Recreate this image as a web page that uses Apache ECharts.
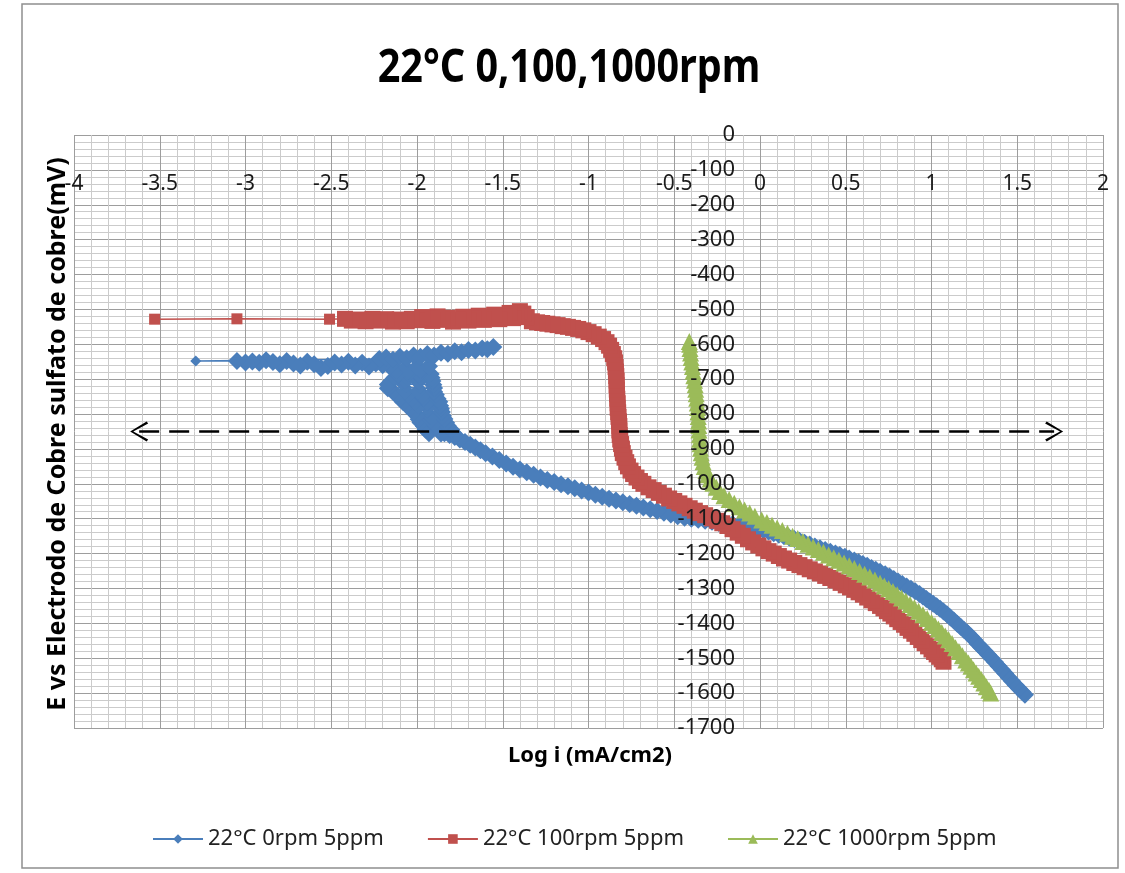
<!DOCTYPE html>
<html>
<head>
<meta charset="utf-8">
<script src="https://cdn.jsdelivr.net/npm/echarts@6/dist/echarts.min.js"></script>
<style>
  html, body { margin: 0; padding: 0; background: #fff; }
  #chart { width: 1125px; height: 873px; }
</style>
</head>
<body>
<div id="chart"></div>
<script>
// Polarization curves: E (mV vs Cu/CuSO4) against log i (mA/cm2)
const chartTitle = '22°C 0,100,1000rpm';
const xAxisName = 'Log i (mA/cm2)';
const yAxisName = 'E vs Electrodo de Cobre sulfato de cobre(mV)';
const seriesNames = ['22°C 0rpm 5ppm', '22°C 100rpm 5ppm', '22°C 1000rpm 5ppm'];

// axis ranges and steps
const logIRange = [-4, 2];
const logIStep = 0.5;
const eRange = [-1700, 0];
const eStep = 100;

// 0 rpm: [log i, E]
const rpm0 = [
  [1.545,-1605],[1.53,-1597],[1.51,-1587],[1.49,-1577],[1.47,-1566],[1.45,-1555],[1.43,-1544],[1.41,-1533],
  [1.39,-1522],[1.37,-1511],[1.35,-1500],[1.33,-1490],[1.31,-1479],[1.29,-1469],[1.27,-1459],[1.25,-1448],
  [1.23,-1438],[1.21,-1428],[1.19,-1419],[1.17,-1410],[1.15,-1401],[1.13,-1392],[1.11,-1383],[1.09,-1374],
  [1.07,-1366],[1.05,-1358],[1.03,-1351],[1.01,-1344],[0.99,-1337],[0.97,-1330],[0.95,-1323],[0.93,-1316],
  [0.905,-1308],[0.88,-1301],[0.855,-1294],[0.83,-1287],[0.805,-1280],[0.78,-1273],[0.755,-1266],[0.73,-1259],
  [0.70,-1252],[0.675,-1246],[0.65,-1241],[0.625,-1235],[0.60,-1230],[0.575,-1225],[0.55,-1220],[0.52,-1214],
  [0.495,-1209],[0.465,-1204],[0.44,-1200],[0.41,-1195],[0.38,-1190],[0.35,-1185],[0.32,-1180],[0.29,-1174],
  [0.26,-1169],[0.23,-1163],[0.20,-1158],[0.17,-1154],[0.14,-1150],[0.11,-1146],[0.08,-1142],[0.05,-1137],
  [0.02,-1133],[-0.01,-1129],[-0.04,-1125],[-0.08,-1121],[-0.12,-1118],[-0.16,-1116],[-0.20,-1114],[-0.24,-1112],
  [-0.28,-1109],[-0.32,-1106],[-0.36,-1103],[-0.40,-1100],[-0.44,-1097],[-0.48,-1093],[-0.52,-1088],[-0.56,-1083],
  [-0.60,-1078],[-0.64,-1073],[-0.68,-1068],[-0.72,-1063],[-0.76,-1058],[-0.80,-1053],[-0.84,-1048],[-0.88,-1043],
  [-0.92,-1037],[-0.96,-1031],[-1.00,-1025],[-1.04,-1019],[-1.08,-1013],[-1.12,-1007],[-1.16,-1001],[-1.20,-995],
  [-1.24,-989],[-1.28,-982],[-1.32,-974],[-1.36,-967],[-1.40,-959],[-1.44,-951],[-1.48,-942],[-1.52,-932],
  [-1.56,-922],[-1.60,-912],[-1.63,-904],[-1.66,-896],[-1.69,-888],[-1.72,-880],[-1.75,-873],[-1.78,-866],
  [-1.81,-860],[-1.84,-855],
  [-1.93,-855],[-1.86,-856],[-1.79,-854],
  [-1.80,-845],[-1.87,-846],[-1.95,-844],
  [-1.96,-835],[-1.89,-836],[-1.82,-834],
  [-1.83,-825],[-1.90,-826],[-1.98,-824],
  [-1.99,-815],[-1.92,-816],[-1.84,-814],
  [-1.85,-805],[-1.92,-806],[-2.00,-804],
  [-2.02,-795],[-1.94,-796],[-1.855,-794],
  [-1.86,-785],[-1.95,-786],[-2.04,-784],
  [-2.06,-775],[-1.99,-776],[-1.93,-774],[-1.865,-776],
  [-1.87,-765],[-1.94,-766],[-2.01,-764],[-2.08,-766],
  [-2.10,-755],[-2.03,-756],[-1.96,-754],[-1.88,-756],
  [-1.89,-745],[-1.97,-746],[-2.05,-744],[-2.12,-746],
  [-2.14,-735],[-2.07,-736],[-1.99,-734],[-1.90,-736],
  [-1.90,-725],[-1.98,-726],[-2.06,-724],[-2.17,-726],
  [-2.17,-715],[-2.09,-716],[-2.00,-714],[-1.905,-716],
  [-1.91,-705],[-1.99,-706],[-2.07,-704],[-2.15,-706],
  [-2.13,-695],[-2.05,-696],[-1.98,-694],[-1.915,-696],
  [-1.92,-685],[-1.99,-686],[-2.05,-684],[-2.11,-686],
  [-2.12,-675],[-2.05,-676],[-1.98,-674],
  [-1.93,-663],[-2.00,-665],[-2.08,-666],[-2.16,-664],
  [-2.20,-660],[-2.24,-655],[-2.28,-664],[-2.32,-653],[-2.36,-661],[-2.40,-650],[-2.44,-658],[-2.48,-652],
  [-2.52,-662],[-2.56,-668],[-2.60,-657],[-2.64,-650],[-2.68,-661],[-2.72,-655],[-2.76,-648],[-2.80,-657],
  [-2.84,-651],[-2.88,-646],[-2.92,-653],[-2.96,-649],[-3.00,-652],[-3.05,-648],[-3.29,-648],
  [-2.22,-642],[-2.18,-638],[-2.14,-644],[-2.10,-636],[-2.06,-640],[-2.02,-632],[-1.98,-636],[-1.94,-628],
  [-1.90,-632],[-1.86,-624],[-1.82,-627],[-1.78,-620],[-1.74,-623],[-1.70,-616],[-1.66,-618],[-1.62,-612],
  [-1.59,-614],[-1.555,-608]
];

// 100 rpm: [log i, E]
const rpm100 = [
  [1.07,-1510],[1.06,-1503],[1.045,-1496],[1.03,-1489],[1.015,-1482],[1.00,-1475],[0.98,-1466],[0.96,-1457],
  [0.94,-1448],[0.92,-1439],[0.90,-1430],[0.88,-1421],[0.86,-1413],[0.84,-1404],[0.82,-1396],[0.80,-1388],
  [0.78,-1380],[0.76,-1372],[0.74,-1365],[0.72,-1357],[0.70,-1350],[0.675,-1342],[0.65,-1334],[0.625,-1326],
  [0.60,-1318],[0.575,-1311],[0.55,-1304],[0.525,-1297],[0.50,-1291],[0.47,-1284],[0.44,-1277],[0.41,-1270],
  [0.38,-1264],[0.35,-1257],[0.32,-1251],[0.29,-1245],[0.26,-1239],[0.23,-1233],[0.20,-1227],[0.17,-1220],
  [0.14,-1214],[0.11,-1207],[0.08,-1200],[0.05,-1193],[0.02,-1185],[-0.01,-1177],[-0.04,-1168],[-0.07,-1159],
  [-0.10,-1149],[-0.13,-1140],[-0.16,-1130],[-0.19,-1121],[-0.22,-1113],[-0.25,-1106],[-0.28,-1099],[-0.32,-1090],
  [-0.35,-1084],[-0.38,-1077],[-0.41,-1070],[-0.44,-1063],[-0.47,-1056],[-0.50,-1049],[-0.53,-1042],
  [-0.56,-1034],[-0.59,-1026],[-0.62,-1018],[-0.65,-1010],[-0.68,-1000],[-0.70,-992],[-0.72,-982],[-0.74,-972],
  [-0.755,-962],[-0.77,-950],[-0.78,-938],[-0.79,-925],[-0.80,-912],[-0.805,-899],[-0.81,-886],[-0.815,-873],
  [-0.818,-860],[-0.82,-847],[-0.82,-834],[-0.822,-821],[-0.825,-808],[-0.827,-795],[-0.83,-782],[-0.83,-769],
  [-0.832,-756],[-0.834,-743],[-0.835,-730],[-0.836,-717],[-0.836,-704],[-0.838,-691],[-0.84,-678],[-0.842,-665],
  [-0.845,-652],[-0.85,-640],[-0.858,-628],[-0.868,-616],[-0.88,-604],[-0.895,-594],[-0.915,-585],[-0.94,-578],
  [-0.97,-571],[-1.00,-565],[-1.03,-560],[-1.06,-556],[-1.09,-553],[-1.12,-550],[-1.15,-548],[-1.18,-545],
  [-1.21,-543],[-1.24,-541],[-1.27,-539],[-1.30,-537],[-1.33,-534],
  [-1.36,-522],[-1.38,-512],[-1.40,-505],[-1.42,-514],[-1.44,-525],[-1.46,-510],[-1.49,-520],[-1.52,-528],
  [-1.55,-515],[-1.58,-524],[-1.61,-530],[-1.64,-518],[-1.67,-527],[-1.70,-532],[-1.73,-521],[-1.76,-529],
  [-1.79,-535],[-1.82,-524],[-1.85,-530],[-1.88,-520],[-1.91,-533],[-1.94,-526],[-1.97,-522],[-2.00,-531],
  [-2.03,-527],[-2.06,-534],[-2.10,-529],[-2.14,-535],[-2.18,-528],[-2.22,-532],[-2.26,-527],[-2.30,-534],
  [-2.34,-529],[-2.38,-532],[-2.42,-527],[-2.51,-528],[-3.05,-527],[-3.53,-528]
];

// 1000 rpm: [log i, E]
const rpm1000 = [
  [1.345,-1600],[1.335,-1592],[1.32,-1582],[1.305,-1571],[1.29,-1561],[1.275,-1552],[1.26,-1542],[1.245,-1533],
  [1.23,-1523],[1.215,-1514],[1.20,-1505],[1.18,-1493],[1.16,-1481],[1.14,-1470],[1.12,-1458],[1.10,-1447],
  [1.08,-1436],[1.06,-1426],[1.04,-1416],[1.02,-1406],[1.00,-1397],[0.975,-1386],[0.95,-1375],[0.925,-1365],
  [0.90,-1355],[0.875,-1346],[0.85,-1336],[0.825,-1327],[0.80,-1318],[0.775,-1309],[0.75,-1301],[0.725,-1293],
  [0.70,-1285],[0.67,-1276],[0.64,-1267],[0.61,-1259],[0.58,-1251],[0.55,-1243],[0.52,-1235],[0.49,-1227],
  [0.46,-1219],[0.43,-1212],[0.40,-1204],[0.37,-1196],[0.34,-1188],[0.31,-1181],[0.28,-1173],[0.25,-1165],
  [0.22,-1157],[0.19,-1150],[0.16,-1142],[0.13,-1134],[0.10,-1127],[0.07,-1119],[0.04,-1111],[0.01,-1104],
  [-0.03,-1093],[-0.06,-1084],[-0.09,-1075],[-0.12,-1066],[-0.15,-1056],[-0.18,-1045],[-0.21,-1034],[-0.235,-1022],
  [-0.255,-1010],[-0.275,-998],[-0.29,-986],[-0.305,-974],[-0.315,-962],[-0.325,-950],[-0.332,-937],[-0.338,-924],
  [-0.343,-911],[-0.347,-898],[-0.35,-885],[-0.352,-872],[-0.354,-859],[-0.356,-846],[-0.357,-833],[-0.358,-820],
  [-0.36,-807],[-0.362,-794],[-0.364,-781],[-0.366,-768],[-0.369,-755],[-0.372,-742],[-0.375,-729],[-0.378,-716],
  [-0.382,-703],[-0.386,-690],[-0.39,-677],[-0.394,-664],[-0.398,-651],[-0.402,-638],[-0.405,-625],[-0.408,-612],
  [-0.41,-600],[-0.412,-592]
];

// dashed double-headed reference line at E = -850 mV
const referenceLine = [[-3.62, -850], [1.715, -850]];

const colors = ['#4a7ebb', '#c0504d', '#9bbb59'];
const symbols = ['diamond', 'rect', 'triangle'];
// marker size on densely sampled stretches / on isolated readings
const denseSizes = [18, 16, 17];
const isolatedSize = 11;
const seriesData = [rpm0, rpm100, rpm1000];

// a reading is "isolated" when both neighbours are far away along log i
function markerSize(data, dense) {
  return function (value, params) {
    const i = params.dataIndex;
    const prev = data[i - 1], next = data[i + 1];
    const dPrev = prev ? Math.abs(prev[0] - data[i][0]) : Infinity;
    const dNext = next ? Math.abs(next[0] - data[i][0]) : Infinity;
    return Math.min(dPrev, dNext) > 0.08 ? isolatedSize : dense;
  };
}

const labelFont = 'Noto Sans';
const chevron = 'path://M10,0 L20,17 L18,18.6 L10,3.2 L2,18.6 L0,17 Z';

const chart = echarts.init(document.getElementById('chart'), null, { renderer: 'canvas' });

const gridLineMajor = { show: true, lineStyle: { color: '#9d9d9d', width: 1 } };
const gridLineMinor = { show: true, lineStyle: { color: '#cbcbcb', width: 1 } };

const plotSeries = seriesData.map((data, i) => ({
  name: seriesNames[i],
  type: 'line',
  data: data,
  xAxisIndex: 0,
  yAxisIndex: 0,
  symbol: symbols[i],
  symbolSize: markerSize(data, denseSizes[i]),
  showSymbol: true,
  itemStyle: { color: colors[i], borderWidth: 0 },
  lineStyle: { color: colors[i], width: 1.5 },
  emphasis: { disabled: true },
  silent: true,
  z: 2 + i
}));

plotSeries.push({
  name: 'ref',
  type: 'line',
  data: referenceLine,
  showSymbol: false,
  lineStyle: { opacity: 0 },
  silent: true,
  z: 8,
  markLine: {
    silent: true,
    animation: false,
    symbol: [chevron, chevron],
    symbolSize: [20, 18],
    label: { show: false },
    lineStyle: { color: '#000', width: 2.5, type: [20, 10] },
    emphasis: { disabled: true },
    data: [[{ coord: referenceLine[0] }, { coord: referenceLine[1] }]]
  }
});

const option = {
  backgroundColor: '#ffffff',
  animation: false,
  grid: { left: 74, right: 22, top: 135, bottom: 145, containLabel: false },
  xAxis: [{
    type: 'value',
    min: logIRange[0],
    max: logIRange[1],
    interval: logIStep,
    position: 'top',
    offset: -35,
    axisLine: { show: false },
    axisTick: { show: false },
    axisLabel: {
      inside: true,
      margin: 4,
      showMinLabel: true,
      showMaxLabel: true,
      fontFamily: labelFont,
      fontSize: 21,
      color: '#1a1a1a',
      verticalAlign: 'top'
    },
    splitLine: gridLineMajor,
    minorTick: { show: false, splitNumber: 5 },
    minorSplitLine: gridLineMinor
  }],
  yAxis: [{
    type: 'value',
    min: eRange[0],
    max: eRange[1],
    interval: eStep,
    position: 'left',
    axisLine: { show: false },
    axisTick: { show: false },
    axisLabel: { show: false },
    splitLine: gridLineMajor,
    minorTick: { show: false, splitNumber: 5 },
    minorSplitLine: gridLineMinor,
    z: 0
  }, {
    type: 'value',
    min: eRange[0],
    max: eRange[1],
    interval: eStep,
    position: 'left',
    offset: -669,
    axisLine: { show: false },
    axisTick: { show: false },
    splitLine: { show: false },
    axisLabel: {
      margin: 8,
      showMinLabel: true,
      showMaxLabel: true,
      fontFamily: labelFont,
      fontSize: 22,
      color: '#1a1a1a',
      formatter: (v) => String(v)
    },
    z: 10
  }],
  legend: {
    data: seriesNames,
    left: 147,
    top: 823,
    itemWidth: 50,
    itemHeight: 12,
    itemGap: 43,
    selectedMode: false,
    textStyle: { fontFamily: labelFont, fontSize: 22, color: '#222' }
  },
  graphic: [
    {
      type: 'rect',
      silent: true,
      shape: { x: 22, y: 4, width: 1096, height: 864 },
      style: { fill: 'none', stroke: '#8f8f8f', lineWidth: 1.5 },
      z: -10
    },
    {
      type: 'text',
      silent: true,
      x: 569,
      y: 69,
      scaleX: 0.86,
      style: {
        text: chartTitle,
        fontFamily: labelFont,
        fontWeight: 'bold',
        fontSize: 46,
        fill: '#000',
        textAlign: 'center',
        textVerticalAlign: 'middle'
      }
    },
    {
      type: 'text',
      silent: true,
      x: 590,
      y: 756,
      style: {
        text: xAxisName,
        fontFamily: labelFont,
        fontWeight: 'bold',
        fontSize: 22,
        fill: '#000',
        textAlign: 'center',
        textVerticalAlign: 'middle'
      }
    },
    {
      type: 'text',
      silent: true,
      x: 58,
      y: 434,
      rotation: Math.PI / 2,
      style: {
        text: yAxisName,
        fontFamily: labelFont,
        fontWeight: 'bold',
        fontSize: 25,
        fill: '#000',
        textAlign: 'center',
        textVerticalAlign: 'middle'
      }
    }
  ],
  series: plotSeries
};

chart.setOption(option);
</script>
</body>
</html>
